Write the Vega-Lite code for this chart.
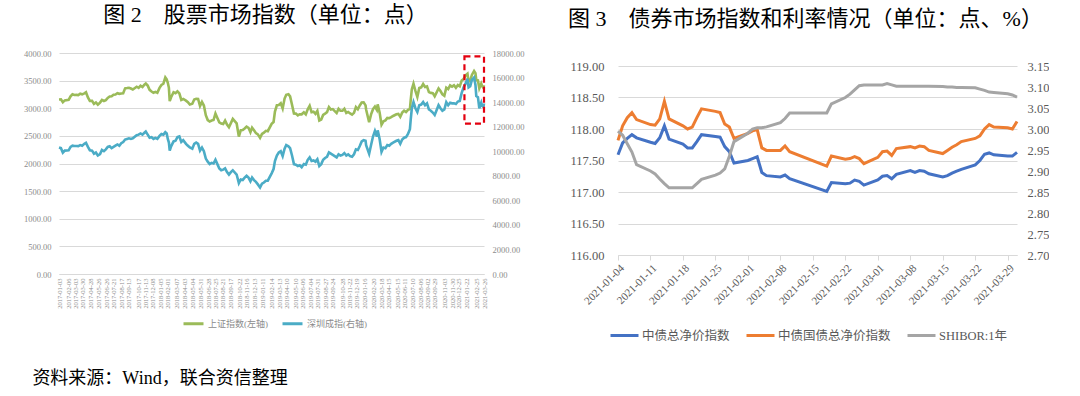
{
  "$schema": "https://vega.github.io/schema/vega-lite/v6.json",
  "background": "white",
  "padding": {"left": 23, "top": 4, "right": 0, "bottom": 0},
  "title": {"text": "资料来源：Wind，联合资信整理", "orient": "bottom", "anchor": "start", "fontSize": 18, "offset": 28, "dx": 9},
  "resolve": {"scale": {"color": "independent"}},
  "spacing": 44,
  "datasets": {
    "stock": [
      {"date":"2017-01-03","sh":3159,"sz":10300},{"date":"2017-01-10","sh":3161,"sz":10250},{"date":"2017-01-17","sh":3108,"sz":9880},{"date":"2017-01-24","sh":3142,"sz":10050},
      {"date":"2017-02-07","sh":3153,"sz":10070},{"date":"2017-02-14","sh":3217,"sz":10350},{"date":"2017-02-21","sh":3253,"sz":10450},{"date":"2017-02-28","sh":3241,"sz":10420},
      {"date":"2017-03-07","sh":3242,"sz":10430},{"date":"2017-03-14","sh":3239,"sz":10420},{"date":"2017-03-21","sh":3262,"sz":10500},{"date":"2017-03-28","sh":3252,"sz":10450},
      {"date":"2017-04-05","sh":3270,"sz":10600},{"date":"2017-04-11","sh":3289,"sz":10680},{"date":"2017-04-18","sh":3196,"sz":10350},{"date":"2017-04-25","sh":3134,"sz":10080},
      {"date":"2017-05-03","sh":3135,"sz":10050},{"date":"2017-05-10","sh":3080,"sz":9800},{"date":"2017-05-17","sh":3104,"sz":9900},{"date":"2017-05-24","sh":3064,"sz":9650},
      {"date":"2017-06-01","sh":3102,"sz":9760},{"date":"2017-06-08","sh":3150,"sz":10100},{"date":"2017-06-15","sh":3132,"sz":10000},{"date":"2017-06-22","sh":3147,"sz":10150},
      {"date":"2017-06-29","sh":3188,"sz":10350},{"date":"2017-07-06","sh":3212,"sz":10400},{"date":"2017-07-13","sh":3218,"sz":10250},{"date":"2017-07-20","sh":3244,"sz":10350},
      {"date":"2017-07-27","sh":3249,"sz":10450},{"date":"2017-08-03","sh":3272,"sz":10550},{"date":"2017-08-10","sh":3261,"sz":10450},{"date":"2017-08-17","sh":3268,"sz":10650},
      {"date":"2017-08-24","sh":3271,"sz":10750},{"date":"2017-08-31","sh":3360,"sz":10950},{"date":"2017-09-07","sh":3365,"sz":11000},{"date":"2017-09-14","sh":3371,"sz":11050},
      {"date":"2017-09-21","sh":3357,"sz":11000},{"date":"2017-09-28","sh":3340,"sz":11050},{"date":"2017-10-12","sh":3390,"sz":11300},{"date":"2017-10-19","sh":3370,"sz":11350},
      {"date":"2017-10-26","sh":3407,"sz":11450},{"date":"2017-11-02","sh":3383,"sz":11350},{"date":"2017-11-09","sh":3427,"sz":11500},{"date":"2017-11-14","sh":3447,"sz":11600},
      {"date":"2017-11-21","sh":3410,"sz":11350},{"date":"2017-11-28","sh":3333,"sz":11100},{"date":"2017-12-05","sh":3303,"sz":11150},{"date":"2017-12-12","sh":3280,"sz":11000},
      {"date":"2017-12-19","sh":3296,"sz":11080},{"date":"2017-12-26","sh":3280,"sz":11000},{"date":"2018-01-03","sh":3369,"sz":11250},{"date":"2018-01-10","sh":3421,"sz":11400},
      {"date":"2018-01-17","sh":3444,"sz":11350},{"date":"2018-01-24","sh":3559,"sz":11550},{"date":"2018-01-29","sh":3523,"sz":11450},{"date":"2018-02-02","sh":3462,"sz":11000},
      {"date":"2018-02-06","sh":3370,"sz":10700},{"date":"2018-02-09","sh":3129,"sz":10050},{"date":"2018-02-14","sh":3199,"sz":10400},{"date":"2018-02-23","sh":3289,"sz":10800},
      {"date":"2018-03-02","sh":3273,"sz":10850},{"date":"2018-03-09","sh":3307,"sz":11150},{"date":"2018-03-16","sh":3269,"sz":11200},{"date":"2018-03-23","sh":3152,"sz":10750},
      {"date":"2018-03-30","sh":3168,"sz":10900},{"date":"2018-04-09","sh":3138,"sz":10600},{"date":"2018-04-16","sh":3110,"sz":10450},{"date":"2018-04-23","sh":3068,"sz":10300},
      {"date":"2018-05-02","sh":3081,"sz":10200},{"date":"2018-05-09","sh":3159,"sz":10600},{"date":"2018-05-16","sh":3170,"sz":10700},{"date":"2018-05-23","sh":3168,"sz":10600},
      {"date":"2018-05-30","sh":3041,"sz":10050},{"date":"2018-06-06","sh":3115,"sz":10300},{"date":"2018-06-13","sh":3049,"sz":10000},{"date":"2018-06-20","sh":2875,"sz":9400},
      {"date":"2018-06-27","sh":2786,"sz":9150},{"date":"2018-07-04","sh":2759,"sz":8950},{"date":"2018-07-11","sh":2777,"sz":9050},{"date":"2018-07-18","sh":2787,"sz":9000},
      {"date":"2018-07-25","sh":2903,"sz":9300},{"date":"2018-08-01","sh":2824,"sz":8950},{"date":"2018-08-08","sh":2744,"sz":8600},{"date":"2018-08-15","sh":2723,"sz":8450},
      {"date":"2018-08-22","sh":2714,"sz":8500},{"date":"2018-08-29","sh":2777,"sz":8600},{"date":"2018-09-05","sh":2704,"sz":8300},{"date":"2018-09-12","sh":2656,"sz":8100},
      {"date":"2018-09-19","sh":2730,"sz":8300},{"date":"2018-09-26","sh":2806,"sz":8450},{"date":"2018-10-10","sh":2725,"sz":8100},{"date":"2018-10-18","sh":2486,"sz":7400},
      {"date":"2018-10-25","sh":2603,"sz":7700},{"date":"2018-11-01","sh":2606,"sz":7650},{"date":"2018-11-08","sh":2635,"sz":7850},{"date":"2018-11-15","sh":2668,"sz":8000},
      {"date":"2018-11-22","sh":2646,"sz":7850},{"date":"2018-11-29","sh":2567,"sz":7550},{"date":"2018-12-05","sh":2649,"sz":7850},{"date":"2018-12-12","sh":2602,"sz":7650},
      {"date":"2018-12-19","sh":2549,"sz":7500},{"date":"2018-12-26","sh":2527,"sz":7300},{"date":"2019-01-03","sh":2464,"sz":7050},{"date":"2019-01-10","sh":2535,"sz":7350},
      {"date":"2019-01-17","sh":2559,"sz":7450},{"date":"2019-01-24","sh":2592,"sz":7600},{"date":"2019-01-31","sh":2585,"sz":7600},{"date":"2019-02-14","sh":2719,"sz":8200},
      {"date":"2019-02-21","sh":2751,"sz":8550},{"date":"2019-02-26","sh":2941,"sz":9200},{"date":"2019-03-05","sh":3054,"sz":9650},{"date":"2019-03-12","sh":3060,"sz":9900},
      {"date":"2019-03-19","sh":3090,"sz":10000},{"date":"2019-03-26","sh":2997,"sz":9600},{"date":"2019-04-02","sh":3176,"sz":10200},{"date":"2019-04-08","sh":3244,"sz":10500},
      {"date":"2019-04-16","sh":3253,"sz":10400},{"date":"2019-04-22","sh":3215,"sz":10250},{"date":"2019-04-29","sh":3062,"sz":9650},{"date":"2019-05-06","sh":2906,"sz":8950},
      {"date":"2019-05-13","sh":2903,"sz":8900},{"date":"2019-05-20","sh":2870,"sz":8800},{"date":"2019-05-27","sh":2892,"sz":8850},{"date":"2019-06-03","sh":2890,"sz":8700},
      {"date":"2019-06-11","sh":2925,"sz":8950},{"date":"2019-06-18","sh":2890,"sz":8900},{"date":"2019-06-25","sh":2982,"sz":9300},{"date":"2019-07-02","sh":3043,"sz":9500},
      {"date":"2019-07-09","sh":2928,"sz":9200},{"date":"2019-07-16","sh":2937,"sz":9250},{"date":"2019-07-23","sh":2899,"sz":9150},{"date":"2019-07-30","sh":2952,"sz":9350},
      {"date":"2019-08-06","sh":2777,"sz":8800},{"date":"2019-08-13","sh":2797,"sz":8950},{"date":"2019-08-20","sh":2880,"sz":9300},{"date":"2019-08-27","sh":2902,"sz":9450},
      {"date":"2019-09-03","sh":2930,"sz":9550},{"date":"2019-09-10","sh":3021,"sz":9900},{"date":"2019-09-17","sh":2978,"sz":9800},{"date":"2019-09-24","sh":2985,"sz":9700},
      {"date":"2019-10-08","sh":2913,"sz":9500},{"date":"2019-10-15","sh":2991,"sz":9750},{"date":"2019-10-22","sh":2954,"sz":9650},{"date":"2019-10-29","sh":2954,"sz":9700},
      {"date":"2019-11-05","sh":2991,"sz":9850},{"date":"2019-11-12","sh":2914,"sz":9650},{"date":"2019-11-19","sh":2933,"sz":9750},{"date":"2019-11-26","sh":2906,"sz":9600},
      {"date":"2019-12-03","sh":2884,"sz":9550},{"date":"2019-12-10","sh":2917,"sz":9750},{"date":"2019-12-17","sh":3022,"sz":10150},{"date":"2019-12-24","sh":2982,"sz":10100},
      {"date":"2019-12-31","sh":3050,"sz":10430},{"date":"2020-01-07","sh":3104,"sz":10800},{"date":"2020-01-14","sh":3106,"sz":10900},{"date":"2020-01-21","sh":3052,"sz":10850},
      {"date":"2020-01-23","sh":2977,"sz":10500},{"date":"2020-02-03","sh":2746,"sz":9800},{"date":"2020-02-10","sh":2890,"sz":10500},{"date":"2020-02-17","sh":2983,"sz":11200},
      {"date":"2020-02-24","sh":3031,"sz":11650},{"date":"2020-03-02","sh":2970,"sz":11200},{"date":"2020-03-05","sh":3071,"sz":11700},{"date":"2020-03-12","sh":2924,"sz":11000},
      {"date":"2020-03-19","sh":2702,"sz":9950},{"date":"2020-03-26","sh":2764,"sz":10300},{"date":"2020-04-02","sh":2780,"sz":10250},{"date":"2020-04-09","sh":2826,"sz":10500},
      {"date":"2020-04-16","sh":2819,"sz":10450},{"date":"2020-04-23","sh":2838,"sz":10600},{"date":"2020-04-30","sh":2860,"sz":10700},{"date":"2020-05-12","sh":2891,"sz":10850},
      {"date":"2020-05-19","sh":2898,"sz":10900},{"date":"2020-05-26","sh":2846,"sz":10600},{"date":"2020-06-02","sh":2921,"sz":10950},{"date":"2020-06-09","sh":2956,"sz":11100},
      {"date":"2020-06-16","sh":2931,"sz":11150},{"date":"2020-06-23","sh":2970,"sz":11400},{"date":"2020-06-30","sh":2985,"sz":11800},{"date":"2020-07-03","sh":3152,"sz":12600},
      {"date":"2020-07-07","sh":3345,"sz":13500},{"date":"2020-07-13","sh":3443,"sz":14000},{"date":"2020-07-20","sh":3314,"sz":13500},{"date":"2020-07-27","sh":3205,"sz":13200},
      {"date":"2020-08-03","sh":3367,"sz":13750},{"date":"2020-08-10","sh":3379,"sz":13800},{"date":"2020-08-17","sh":3438,"sz":14000},{"date":"2020-08-24","sh":3385,"sz":13750},
      {"date":"2020-08-31","sh":3395,"sz":13900},{"date":"2020-09-07","sh":3292,"sz":13400},{"date":"2020-09-14","sh":3278,"sz":13300},{"date":"2020-09-21","sh":3274,"sz":13150},
      {"date":"2020-09-28","sh":3217,"sz":12950},{"date":"2020-10-12","sh":3358,"sz":13750},{"date":"2020-10-19","sh":3312,"sz":13500},{"date":"2020-10-26","sh":3251,"sz":13300},
      {"date":"2020-11-02","sh":3225,"sz":13400},{"date":"2020-11-09","sh":3373,"sz":14000},{"date":"2020-11-16","sh":3346,"sz":13750},{"date":"2020-11-23","sh":3414,"sz":13950},
      {"date":"2020-11-30","sh":3391,"sz":13900},{"date":"2020-12-07","sh":3416,"sz":13900},{"date":"2020-12-14","sh":3369,"sz":13850},{"date":"2020-12-21","sh":3420,"sz":14050},
      {"date":"2020-12-28","sh":3397,"sz":14100},{"date":"2021-01-04","sh":3502,"sz":14750},{"date":"2021-01-11","sh":3531,"sz":15200},{"date":"2021-01-18","sh":3596,"sz":15500},
      {"date":"2021-01-25","sh":3624,"sz":15900},{"date":"2021-01-29","sh":3483,"sz":15200},{"date":"2021-02-04","sh":3501,"sz":15300},{"date":"2021-02-10","sh":3603,"sz":15800},
      {"date":"2021-02-18","sh":3675,"sz":16000},{"date":"2021-02-23","sh":3636,"sz":15400},{"date":"2021-02-26","sh":3509,"sz":14500},{"date":"2021-03-04","sh":3503,"sz":14400},
      {"date":"2021-03-09","sh":3360,"sz":13500},{"date":"2021-03-16","sh":3446,"sz":13950},{"date":"2021-03-19","sh":3405,"sz":13700},{"date":"2021-03-24","sh":3367,"sz":13600},
      {"date":"2021-03-26","sh":3418,"sz":13900}
    ],
    "bond": [
      {"date":"2021-01-04","中债总净价指数":117.59,"中债国债总净价指数":117.82,"SHIBOR":2.995},
      {"date":"2021-01-05","中债总净价指数":117.78,"中债国债总净价指数":118.05,"SHIBOR":2.985},
      {"date":"2021-01-06","中债总净价指数":117.85,"中债国债总净价指数":118.18,"SHIBOR":2.965},
      {"date":"2021-01-07","中债总净价指数":117.91,"中债国债总净价指数":118.26,"SHIBOR":2.945},
      {"date":"2021-01-08","中债总净价指数":117.86,"中债国债总净价指数":118.15,"SHIBOR":2.915},
      {"date":"2021-01-11","中债总净价指数":117.79,"中债国债总净价指数":118.07,"SHIBOR":2.900},
      {"date":"2021-01-12","中债总净价指数":117.77,"中债国债总净价指数":118.06,"SHIBOR":2.893},
      {"date":"2021-01-13","中债总净价指数":117.86,"中债国债总净价指数":118.16,"SHIBOR":2.881},
      {"date":"2021-01-14","中债总净价指数":118.05,"中债国债总净价指数":118.44,"SHIBOR":2.870},
      {"date":"2021-01-15","中债总净价指数":117.84,"中债国债总净价指数":118.16,"SHIBOR":2.860},
      {"date":"2021-01-18","中债总净价指数":117.76,"中债国债总净价指数":118.05,"SHIBOR":2.860},
      {"date":"2021-01-19","中债总净价指数":117.70,"中债国债总净价指数":118.00,"SHIBOR":2.860},
      {"date":"2021-01-20","中债总净价指数":117.70,"中债国债总净价指数":118.03,"SHIBOR":2.860},
      {"date":"2021-01-21","中债总净价指数":117.80,"中债国债总净价指数":118.18,"SHIBOR":2.870},
      {"date":"2021-01-22","中债总净价指数":117.91,"中债国债总净价指数":118.32,"SHIBOR":2.880},
      {"date":"2021-01-25","中债总净价指数":117.88,"中债国债总净价指数":118.28,"SHIBOR":2.890},
      {"date":"2021-01-26","中债总净价指数":117.87,"中债国债总净价指数":118.26,"SHIBOR":2.895},
      {"date":"2021-01-27","中债总净价指数":117.72,"中债国债总净价指数":118.08,"SHIBOR":2.905},
      {"date":"2021-01-28","中债总净价指数":117.64,"中债国债总净价指数":118.03,"SHIBOR":2.935},
      {"date":"2021-01-29","中债总净价指数":117.46,"中债国债总净价指数":117.85,"SHIBOR":2.970},
      {"date":"2021-02-01","中债总净价指数":117.50,"中债国债总净价指数":117.93,"SHIBOR":2.990},
      {"date":"2021-02-02","中债总净价指数":117.53,"中债国债总净价指数":117.97,"SHIBOR":3.000},
      {"date":"2021-02-03","中债总净价指数":117.56,"中债国债总净价指数":117.99,"SHIBOR":3.003},
      {"date":"2021-02-04","中债总净价指数":117.31,"中债国债总净价指数":117.70,"SHIBOR":3.003},
      {"date":"2021-02-05","中债总净价指数":117.26,"中债国债总净价指数":117.66,"SHIBOR":3.005},
      {"date":"2021-02-08","中债总净价指数":117.24,"中债国债总净价指数":117.66,"SHIBOR":3.015},
      {"date":"2021-02-09","中债总净价指数":117.27,"中债国债总净价指数":117.73,"SHIBOR":3.025},
      {"date":"2021-02-10","中债总净价指数":117.21,"中债国债总净价指数":117.64,"SHIBOR":3.038},
      {"date":"2021-02-18","中债总净价指数":117.01,"中债国债总净价指数":117.41,"SHIBOR":3.038},
      {"date":"2021-02-19","中债总净价指数":117.15,"中债国债总净价指数":117.57,"SHIBOR":3.060},
      {"date":"2021-02-22","中债总净价指数":117.13,"中债国债总净价指数":117.52,"SHIBOR":3.075},
      {"date":"2021-02-23","中债总净价指数":117.14,"中债国债总净价指数":117.53,"SHIBOR":3.083},
      {"date":"2021-02-24","中债总净价指数":117.19,"中债国债总净价指数":117.56,"SHIBOR":3.093},
      {"date":"2021-02-25","中债总净价指数":117.17,"中债国债总净价指数":117.53,"SHIBOR":3.103},
      {"date":"2021-02-26","中债总净价指数":117.11,"中债国债总净价指数":117.45,"SHIBOR":3.105},
      {"date":"2021-03-01","中债总净价指数":117.19,"中债国债总净价指数":117.55,"SHIBOR":3.105},
      {"date":"2021-03-02","中债总净价指数":117.25,"中债国债总净价指数":117.64,"SHIBOR":3.105},
      {"date":"2021-03-03","中债总净价指数":117.26,"中债国债总净价指数":117.65,"SHIBOR":3.108},
      {"date":"2021-03-04","中债总净价指数":117.21,"中债国债总净价指数":117.58,"SHIBOR":3.105},
      {"date":"2021-03-05","中债总净价指数":117.28,"中债国债总净价指数":117.69,"SHIBOR":3.102},
      {"date":"2021-03-08","中债总净价指数":117.34,"中债国债总净价指数":117.72,"SHIBOR":3.102},
      {"date":"2021-03-09","中债总净价指数":117.31,"中债国债总净价指数":117.70,"SHIBOR":3.102},
      {"date":"2021-03-10","中债总净价指数":117.34,"中债国债总净价指数":117.73,"SHIBOR":3.102},
      {"date":"2021-03-11","中债总净价指数":117.33,"中债国债总净价指数":117.72,"SHIBOR":3.102},
      {"date":"2021-03-12","中债总净价指数":117.29,"中债国债总净价指数":117.66,"SHIBOR":3.102},
      {"date":"2021-03-15","中债总净价指数":117.24,"中债国债总净价指数":117.61,"SHIBOR":3.101},
      {"date":"2021-03-16","中债总净价指数":117.26,"中债国债总净价指数":117.66,"SHIBOR":3.100},
      {"date":"2021-03-17","中债总净价指数":117.30,"中债国债总净价指数":117.71,"SHIBOR":3.100},
      {"date":"2021-03-18","中债总净价指数":117.33,"中债国债总净价指数":117.75,"SHIBOR":3.099},
      {"date":"2021-03-19","中债总净价指数":117.36,"中债国债总净价指数":117.80,"SHIBOR":3.099},
      {"date":"2021-03-22","中债总净价指数":117.43,"中债国债总净价指数":117.85,"SHIBOR":3.098},
      {"date":"2021-03-23","中债总净价指数":117.50,"中债国债总净价指数":117.89,"SHIBOR":3.095},
      {"date":"2021-03-24","中债总净价指数":117.60,"中债国债总净价指数":118.00,"SHIBOR":3.092},
      {"date":"2021-03-25","中债总净价指数":117.62,"中债国债总净价指数":118.07,"SHIBOR":3.088},
      {"date":"2021-03-26","中债总净价指数":117.59,"中债国债总净价指数":118.03,"SHIBOR":3.087},
      {"date":"2021-03-29","中债总净价指数":117.57,"中债国债总净价指数":118.02,"SHIBOR":3.084},
      {"date":"2021-03-30","中债总净价指数":117.57,"中债国债总净价指数":118.00,"SHIBOR":3.081},
      {"date":"2021-03-31","中债总净价指数":117.63,"中债国债总净价指数":118.12,"SHIBOR":3.076}
    ]
  },
  "hconcat": [
    {
      "title": {"text": "图 2　股票市场指数（单位：点）", "anchor": "middle", "offset": 22, "fontSize": 22, "dx": -6},
      "width": 425,
      "height": 221,
      "data": {"name": "stock"},
      "layer": [
        {
          "mark": {"type": "line", "strokeWidth": 2.6},
          "encoding": {
            "x": {"field": "date", "type": "temporal",
              "scale": {"type": "utc", "domain": [{"year":2017,"month":1,"date":3,"utc":true},{"year":2021,"month":3,"date":26,"utc":true}]},
              "axis": {"title": null, "format": "%Y-%m-%d", "labelAngle": -90, "labelFontSize": 6.5, "labelFont": "Liberation Serif", "labelColor": "#8C8C8C", "ticks": false, "grid": false, "domainColor": "#D9D9D9", "labelPadding": 4, "labelOverlap": false, "tickCount": 200, "labelBound": false, "labelFlush": false,
                "values": [
                  {"year":2017,"month":1,"date":3,"utc":true},{"year":2017,"month":2,"date":6,"utc":true},{"year":2017,"month":3,"date":3,"utc":true},{"year":2017,"month":3,"date":30,"utc":true},
                  {"year":2017,"month":4,"date":28,"utc":true},{"year":2017,"month":5,"date":26,"utc":true},{"year":2017,"month":6,"date":26,"utc":true},{"year":2017,"month":7,"date":21,"utc":true},
                  {"year":2017,"month":8,"date":17,"utc":true},{"year":2017,"month":9,"date":13,"utc":true},{"year":2017,"month":10,"date":17,"utc":true},{"year":2017,"month":11,"date":13,"utc":true},
                  {"year":2017,"month":12,"date":8,"utc":true},{"year":2018,"month":1,"date":5,"utc":true},{"year":2018,"month":2,"date":1,"utc":true},{"year":2018,"month":3,"date":7,"utc":true},
                  {"year":2018,"month":4,"date":3,"utc":true},{"year":2018,"month":5,"date":4,"utc":true},{"year":2018,"month":5,"date":31,"utc":true},{"year":2018,"month":6,"date":28,"utc":true},
                  {"year":2018,"month":7,"date":25,"utc":true},{"year":2018,"month":8,"date":21,"utc":true},{"year":2018,"month":9,"date":17,"utc":true},{"year":2018,"month":10,"date":22,"utc":true},
                  {"year":2018,"month":11,"date":16,"utc":true},{"year":2018,"month":12,"date":13,"utc":true},{"year":2019,"month":1,"date":11,"utc":true},{"year":2019,"month":2,"date":14,"utc":true},
                  {"year":2019,"month":3,"date":13,"utc":true},{"year":2019,"month":4,"date":10,"utc":true},{"year":2019,"month":5,"date":10,"utc":true},{"year":2019,"month":6,"date":6,"utc":true},
                  {"year":2019,"month":7,"date":4,"utc":true},{"year":2019,"month":7,"date":31,"utc":true},{"year":2019,"month":8,"date":27,"utc":true},{"year":2019,"month":9,"date":24,"utc":true},
                  {"year":2019,"month":10,"date":28,"utc":true},{"year":2019,"month":11,"date":22,"utc":true},{"year":2019,"month":12,"date":19,"utc":true},{"year":2020,"month":1,"date":16,"utc":true},
                  {"year":2020,"month":2,"date":20,"utc":true},{"year":2020,"month":3,"date":18,"utc":true},{"year":2020,"month":4,"date":15,"utc":true},{"year":2020,"month":5,"date":15,"utc":true},
                  {"year":2020,"month":6,"date":11,"utc":true},{"year":2020,"month":7,"date":10,"utc":true},{"year":2020,"month":8,"date":6,"utc":true},{"year":2020,"month":9,"date":2,"utc":true},
                  {"year":2020,"month":9,"date":29,"utc":true},{"year":2020,"month":11,"date":3,"utc":true},{"year":2020,"month":11,"date":30,"utc":true},{"year":2020,"month":12,"date":25,"utc":true},
                  {"year":2021,"month":1,"date":22,"utc":true},{"year":2021,"month":2,"date":25,"utc":true},{"year":2021,"month":3,"date":26,"utc":true}
                ]}},
            "y": {"field": "sh", "type": "quantitative", "scale": {"domain": [0, 4000]},
              "axis": {"title": null, "values": [0,500,1000,1500,2000,2500,3000,3500,4000], "format": ".2f", "labelFont": "Liberation Serif", "labelFontSize": 8.5, "labelColor": "#8C8C8C", "ticks": false, "domain": false, "grid": true, "gridColor": "#D9D9D9", "labelPadding": 8}},
            "color": {"datum": "上证指数(左轴)", "type": "nominal",
              "scale": {"domain": ["上证指数(左轴)", "深圳成指(右轴)"], "range": ["#9BBB59", "#4BACC6"]},
              "legend": {"title": null, "orient": "none", "legendX": 123, "legendY": 259, "direction": "horizontal", "symbolType": "stroke", "symbolStrokeWidth": 3, "symbolSize": 400, "labelFont": "Liberation Serif, Noto Sans CJK SC", "labelFontSize": 9, "labelColor": "#8C8C8C", "columnPadding": 8, "labelOffset": 3}}
          }
        },
        {
          "mark": {"type": "line", "strokeWidth": 2.6},
          "encoding": {
            "x": {"field": "date", "type": "temporal", "axis": {"labelOverlap": false, "tickCount": 200, "labelAngle": -90}},
            "y": {"field": "sz", "type": "quantitative", "scale": {"domain": [0, 18000]},
              "axis": {"title": null, "orient": "right", "values": [0,2000,4000,6000,8000,10000,12000,14000,16000,18000], "format": ".2f", "labelFont": "Liberation Serif", "labelFontSize": 8.5, "labelColor": "#8C8C8C", "ticks": false, "domain": false, "grid": false, "labelPadding": 8}},
            "color": {"datum": "深圳成指(右轴)", "type": "nominal"}
          }
        },
        {
          "data": {"values": [{"start": "2021-01-14", "end": "2021-03-26", "low": 2720, "high": 3940}]},
          "mark": {"type": "rect", "fill": "transparent", "stroke": "#E3000F", "strokeWidth": 2.2, "strokeDash": [6, 4]},
          "encoding": {
            "x": {"field": "start", "type": "temporal", "axis": {"labelOverlap": false, "tickCount": 200, "labelAngle": -90}},
            "x2": {"field": "end"},
            "y": {"field": "low", "type": "quantitative", "scale": {"domain": [0, 4000]}, "axis": null},
            "y2": {"field": "high"}
          }
        }
      ],
      "resolve": {"scale": {"y": "independent"}}
    },
    {
      "title": {"text": "图 3　债券市场指数和利率情况（单位：点、%）", "anchor": "start", "frame": "bounds", "offset": 22, "fontSize": 22, "dx": -2},
      "width": 399,
      "height": 202,
      "data": {"name": "bond"},
      "layer": [
        {
          "transform": [{"fold": ["中债总净价指数", "中债国债总净价指数"], "as": ["series", "value"]}],
          "mark": {"type": "line", "strokeWidth": 3},
          "encoding": {
            "x": {"field": "date", "type": "temporal",
              "scale": {"type": "utc", "domain": [{"year":2021,"month":1,"date":4,"utc":true},{"year":2021,"month":3,"date":31,"utc":true}]},
              "axis": {"title": null, "format": "%Y-%m-%d", "labelAngle": -45, "labelFont": "Liberation Serif", "labelFontSize": 11, "labelColor": "#595959", "tickColor": "#D9D9D9", "tickSize": 5, "domainColor": "#D9D9D9", "grid": false, "labelPadding": 2, "labelOverlap": false, "tickCount": 200, "labelBound": false, "labelFlush": false,
                "values": [
                  {"year":2021,"month":1,"date":4,"utc":true},{"year":2021,"month":1,"date":11,"utc":true},{"year":2021,"month":1,"date":18,"utc":true},{"year":2021,"month":1,"date":25,"utc":true},
                  {"year":2021,"month":2,"date":1,"utc":true},{"year":2021,"month":2,"date":8,"utc":true},{"year":2021,"month":2,"date":15,"utc":true},{"year":2021,"month":2,"date":22,"utc":true},
                  {"year":2021,"month":3,"date":1,"utc":true},{"year":2021,"month":3,"date":8,"utc":true},{"year":2021,"month":3,"date":15,"utc":true},{"year":2021,"month":3,"date":22,"utc":true},
                  {"year":2021,"month":3,"date":29,"utc":true}
                ]}},
            "y": {"field": "value", "type": "quantitative", "scale": {"domain": [116, 119], "range": [202, 13]},
              "axis": {"title": null, "values": [116,116.5,117,117.5,118,118.5,119], "format": ".2f", "labelFont": "Liberation Serif", "labelFontSize": 12.5, "labelColor": "#595959", "ticks": false, "domain": false, "grid": true, "gridColor": "#D9D9D9", "labelPadding": 14}},
            "color": {"field": "series", "type": "nominal",
              "scale": {"domain": ["中债总净价指数", "中债国债总净价指数", "SHIBOR:1年"], "range": ["#4472C4", "#ED7D31", "#A5A5A5"]},
              "legend": {"title": null, "orient": "none", "legendX": -9, "legendY": 267, "direction": "horizontal", "symbolType": "stroke", "symbolStrokeWidth": 3, "symbolSize": 784, "labelFont": "Liberation Serif, Noto Sans CJK SC", "labelFontSize": 12.5, "labelColor": "#595959", "columnPadding": 10, "labelOffset": 2}}
          }
        },
        {
          "mark": {"type": "line", "strokeWidth": 3},
          "encoding": {
            "x": {"field": "date", "type": "temporal", "axis": {"labelOverlap": false, "tickCount": 200, "labelAngle": -45}},
            "y": {"field": "SHIBOR", "type": "quantitative", "scale": {"domain": [2.7, 3.15], "range": [202, 13]},
              "axis": {"title": null, "orient": "right", "values": [2.7,2.75,2.8,2.85,2.9,2.95,3.0,3.05,3.1,3.15], "format": ".2f", "labelFont": "Liberation Serif", "labelFontSize": 12.5, "labelColor": "#595959", "ticks": false, "domain": false, "grid": false, "labelPadding": 10}},
            "color": {"datum": "SHIBOR:1年", "type": "nominal"}
          }
        }
      ],
      "resolve": {"scale": {"y": "independent"}}
    }
  ],
  "config": {
    "view": {"stroke": null},
    "font": "Liberation Serif, Noto Sans CJK SC",
    "axis": {"labelOverlap": false},
    "title": {"font": "Liberation Serif, Noto Sans CJK SC", "fontWeight": "normal", "color": "#000000"}
  }
}
